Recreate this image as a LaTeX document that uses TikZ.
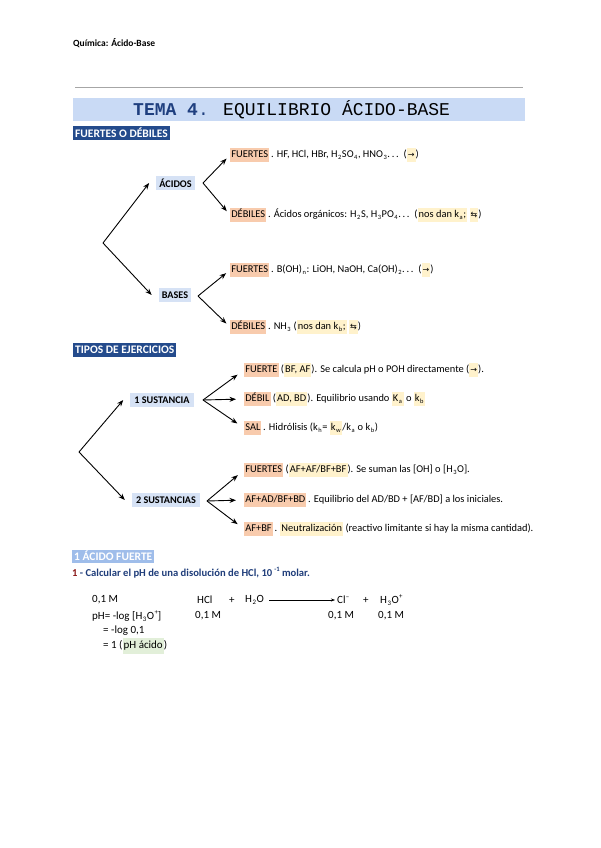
\documentclass[tikz,border=0pt]{standalone}
\usepackage{fontspec}
\setmainfont{Carlito}
\newfontfamily\monof{Liberation Mono}
\newfontfamily\symf{DejaVu Sans}
\usetikzlibrary{arrows.meta}
\definecolor{hlor}{HTML}{F8CBAD}
\definecolor{hlye}{HTML}{FFF2CC}
\definecolor{lblue}{HTML}{D6E2F5}
\definecolor{dblue}{HTML}{244B8C}
\definecolor{band}{HTML}{C9DAF5}
\definecolor{qblue}{HTML}{9FBDEA}
\definecolor{navy}{HTML}{1F3D7A}
\definecolor{dred}{HTML}{8B1A1A}
\definecolor{lgreen}{HTML}{E2EFD9}
\definecolor{tblue}{HTML}{1F3F7F}
\setlength{\fboxsep}{1.1pt}
\newcommand\hlo[1]{\colorbox{hlor}{\strut #1}}
\newcommand\hly[1]{\colorbox{hlye}{\strut #1}}
\newcommand\hlg[1]{\colorbox{lgreen}{\strut #1}}
\newcommand\sbs[1]{\kern0.5pt\raisebox{-0.45ex}{\scalebox{0.62}{#1}}\kern0.6pt\relax}
\newcommand\sps[1]{\kern0.3pt\relax\raisebox{0.9ex}{\scalebox{0.62}{#1}}}
\begin{document}
\begin{tikzpicture}[x=1pt,y=-1pt,
  txt/.style={anchor=west, inner sep=0pt, font=\fontsize{10.4}{12}\selectfont},
  eq/.style={anchor=west, inner sep=0pt, font=\fontsize{11}{13}\selectfont},
  lbox/.style={fill=lblue, inner xsep=3pt, inner ysep=0pt, minimum height=14pt, font=\bfseries\fontsize{10.2}{12}\selectfont},
  sec/.style={anchor=west, fill=dblue, text=white, inner xsep=2pt, inner ysep=0pt, minimum height=14pt, font=\bfseries\fontsize{11.5}{13}\selectfont},
  arr/.style={-{Stealth[length=6.5pt,width=5pt]}, line width=0.9pt},
  rarr/.style={-{Stealth[length=4pt,width=3pt]}, line width=0.5pt}]
\useasboundingbox (0,0) rectangle (600,848);
\fill[white] (0,0) rectangle (600,848);

% header
\node[anchor=west, inner sep=0pt, font=\bfseries\fontsize{9.5}{11}\selectfont] (hdr) at (73,43) {Química: Ácido-Base};
\draw[gray!70, line width=1pt] (75,88) -- (523,88);
\fill[band] (73,98) rectangle (525,121);
\node[anchor=west, inner sep=0pt, font=\monof\fontsize{18}{20}\selectfont] (title) at (133,110)
  {\textcolor{tblue}{\textbf{TEMA 4}.} EQUILIBRIO ÁCIDO-BASE};

% section 1
\node[sec] (s1) at (73,133) {FUERTES O DÉBILES};
\coordinate (r1) at (103,243);
\node[lbox] (acidos) at (175.5,183) {ÁCIDOS};
\node[lbox] (bases) at (175,295) {BASES};
\draw[arr] (r1) -- ([xshift=-7pt]acidos.west);
\draw[arr] (r1) -- ([xshift=-7pt]bases.west);
\coordinate (sa) at (203,183);
\coordinate (sb) at (198,296);
\node[txt] (a1) at (230,155) {\hlo{FUERTES}\,. HF, HCl, HBr, H\sbs{2}SO\sbs{4}, HNO\sbs{3}.\,.\,.\, (\hly{\symf\footnotesize →})};
\node[txt] (a2) at (230,215) {\hlo{DÉBILES}\,. Ácidos orgánicos: H\sbs{2}S, H\sbs{3}PO\sbs{4}.\,.\,.\, (\hly{nos dan k\sbs{a};} \hly{\symf\footnotesize ⇆})};
\node[txt] (b1) at (230,270) {\hlo{FUERTES}\,. B(OH)\sbs{n}: LiOH, NaOH, Ca(OH)\sbs{2}.\,.\,.\, (\hly{\symf\footnotesize →})};
\node[txt] (b2) at (230,327) {\hlo{DÉBILES}\,. NH\sbs{3} (\hly{nos dan k\sbs{b};} \hly{\symf\footnotesize ⇆})};
\draw[arr, shorten >=5pt] (sa) -- (a1.west);
\draw[arr, shorten >=5pt] (sa) -- (a2.west);
\draw[arr, shorten >=5pt] (sb) -- (b1.west);
\draw[arr, shorten >=5pt] (sb) -- (b2.west);

% section 2
\node[sec] (s2) at (73,350) {TIPOS DE EJERCICIOS};
\coordinate (r2) at (79,452);
\node[lbox, inner xsep=4pt] (one) at (162,400) {1 SUSTANCIA};
\node[lbox, inner xsep=4pt] (two) at (166,500) {2 SUSTANCIAS};
\draw[arr] (r2) -- ([xshift=-7pt]one.west);
\draw[arr] (r2) -- ([xshift=-7pt]two.west);
\coordinate (so) at (203,400);
\coordinate (st) at (207,501);
\node[txt] (t1) at (244,370) {\hlo{FUERTE} (\hly{BF, AF}). Se calcula pH o POH directamente (\hly{\symf\footnotesize →}).};
\node[txt] (t2) at (244,399) {\hlo{DÉBIL} (\hly{AD, BD}). Equilibrio usando \hly{K\sbs{a}} o \hly{k\sbs{b}}};
\node[txt] (t3) at (244,428) {\hlo{SAL}\,. Hidrólisis (k\sbs{h}= \hly{k\sbs{w}}/k\sbs{a} o k\sbs{b})};
\node[txt] (t4) at (244,470) {\hlo{FUERTES} (\hly{AF+AF/BF+BF}). Se suman las [OH] o [H\sbs{3}O].};
\node[txt] (t5) at (244,500) {\hlo{AF+AD/BF+BD}\,. Equilibrio del AD/BD + [AF/BD] a los iniciales.};
\node[txt] (t6) at (244,529) {\hlo{AF+BF}\,. \hly{Neutralización} (reactivo limitante si hay la misma cantidad).};
\draw[arr, shorten >=8pt] (so) -- (t1.west);
\draw[arr, shorten >=8pt] (so) -- (t2.west);
\draw[arr, shorten >=8pt] (so) -- (t3.west);
\draw[arr, shorten >=8pt] (st) -- (t4.west);
\draw[arr, shorten >=8pt] (st) -- (t5.west);
\draw[arr, shorten >=8pt] (st) -- (t6.west);

% section 3
\node[anchor=west, fill=qblue, text=white, inner xsep=2pt, inner ysep=0pt, minimum height=13pt, font=\bfseries\fontsize{11.5}{13}\selectfont] (s3) at (72,556) {1 ÁCIDO FUERTE};
\node[txt, font=\bfseries\fontsize{10.6}{12}\selectfont, text=navy] (q1) at (72,573)
  {\textcolor{dred}{1} - Calcular el pH de una disolución de HCl, 10\,\sps{-1} molar.};

\node[eq] (m1) at (92,600) {0,1 M};
\node[eq] (hcl) at (197,600) {HCl};
\node[eq] (p1) at (229,600) {+};
\node[eq] (h2o) at (245,600) {H\sbs{2}O};
\node[eq] (cl) at (337,600) {Cl\sps{−}};
\node[eq] (p2) at (363,600) {+};
\node[eq] (h3o) at (380,600) {H\sbs{3}O\sps{+}};
\draw[rarr] ([xshift=5pt]h2o.east) -- ([xshift=-2pt]cl.west);
\node[eq] (m2) at (92,616) {pH= -log [H\sbs{3}O\sps{+}]};
\node[eq] (c1) at (195,616) {0,1 M};
\node[eq] (c2) at (328,616) {0,1 M};
\node[eq] (c3) at (378,616) {0,1 M};
\node[eq] (m3) at (103,631) {= -log 0,1};
\node[eq] (m4) at (103,646) {= 1 (\hlg{pH ácido})};
\end{tikzpicture}
\end{document}
